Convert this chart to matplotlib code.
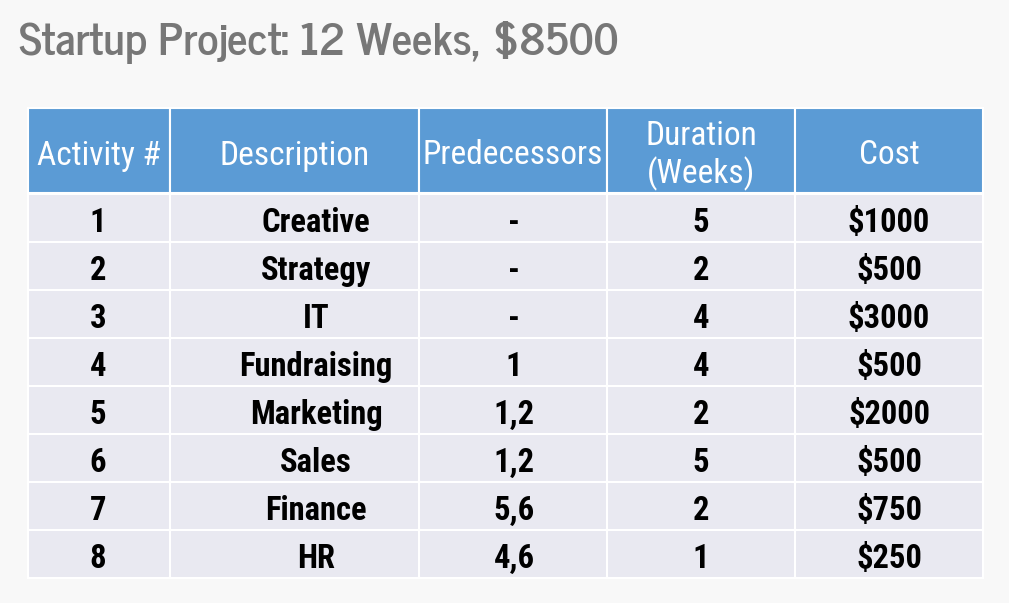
import matplotlib.pyplot as plt
from matplotlib.patches import Rectangle

title = "Startup Project: 12 Weeks, $8500"
headers = ["Activity #", "Description", "Predecessors", "Duration\n(Weeks)", "Cost"]
activity = ["1", "2", "3", "4", "5", "6", "7", "8"]
description = ["Creative", "Strategy", "IT", "Fundraising", "Marketing", "Sales", "Finance", "HR"]
predecessors = ["-", "-", "-", "1", "1,2", "1,2", "5,6", "4,6"]
duration = [5, 2, 4, 4, 2, 5, 2, 1]
cost = [1000, 500, 3000, 500, 2000, 500, 750, 250]

head_blue = "#5b9bd5"
row_grey = "#e9e9f1"
bg = "#f8f8f8"
cond = ["Roboto Condensed", "PT Sans Narrow", "DejaVu Sans"]
title_font = ["News Cycle", "Libre Franklin", "DejaVu Sans"]

col_edges = [28, 170, 419, 607, 795, 983]
text_x = [98, 316, 514, 701, 889]          # data text centres
head_x = [99, 295, 513, 701, 889]
head_top, head_bot = 108, 193
row_top, row_h = 194, 48

fig = plt.figure(figsize=(10.09, 6.03), dpi=100, facecolor=bg)
ax = fig.add_axes([0, 0, 1, 1])
ax.set_xlim(0, 1009)
ax.set_ylim(603, 0)
ax.axis("off")

ax.text(19, 42, title, fontsize=32, fontweight="bold", color="#777777",
        family=title_font, ha="left", va="center")

# header cells
for i, h in enumerate(headers):
    x0, x1 = col_edges[i], col_edges[i + 1]
    ax.add_patch(Rectangle((x0, head_top), x1 - x0, head_bot - head_top,
                           facecolor=head_blue, edgecolor="white", lw=1.5))
    ax.text(head_x[i], (head_top + head_bot) / 2 + 5, h, fontsize=24, color="white",
            family=cond, ha="center", va="center", linespacing=1.15)

# data rows
cols = [activity, description, predecessors,
        [str(d) for d in duration], ["$" + str(c) for c in cost]]
for r in range(len(activity)):
    y0 = row_top + r * row_h
    for i in range(len(headers)):
        x0, x1 = col_edges[i], col_edges[i + 1]
        ax.add_patch(Rectangle((x0, y0), x1 - x0, row_h,
                               facecolor=row_grey, edgecolor="white", lw=1.5))
        ax.text(text_x[i], y0 + row_h / 2 + 5, cols[i][r], fontsize=23.5,
                fontweight="bold", color="black", family=cond,
                ha="center", va="center")

fig.savefig("out.png", dpi=100, facecolor=bg)
